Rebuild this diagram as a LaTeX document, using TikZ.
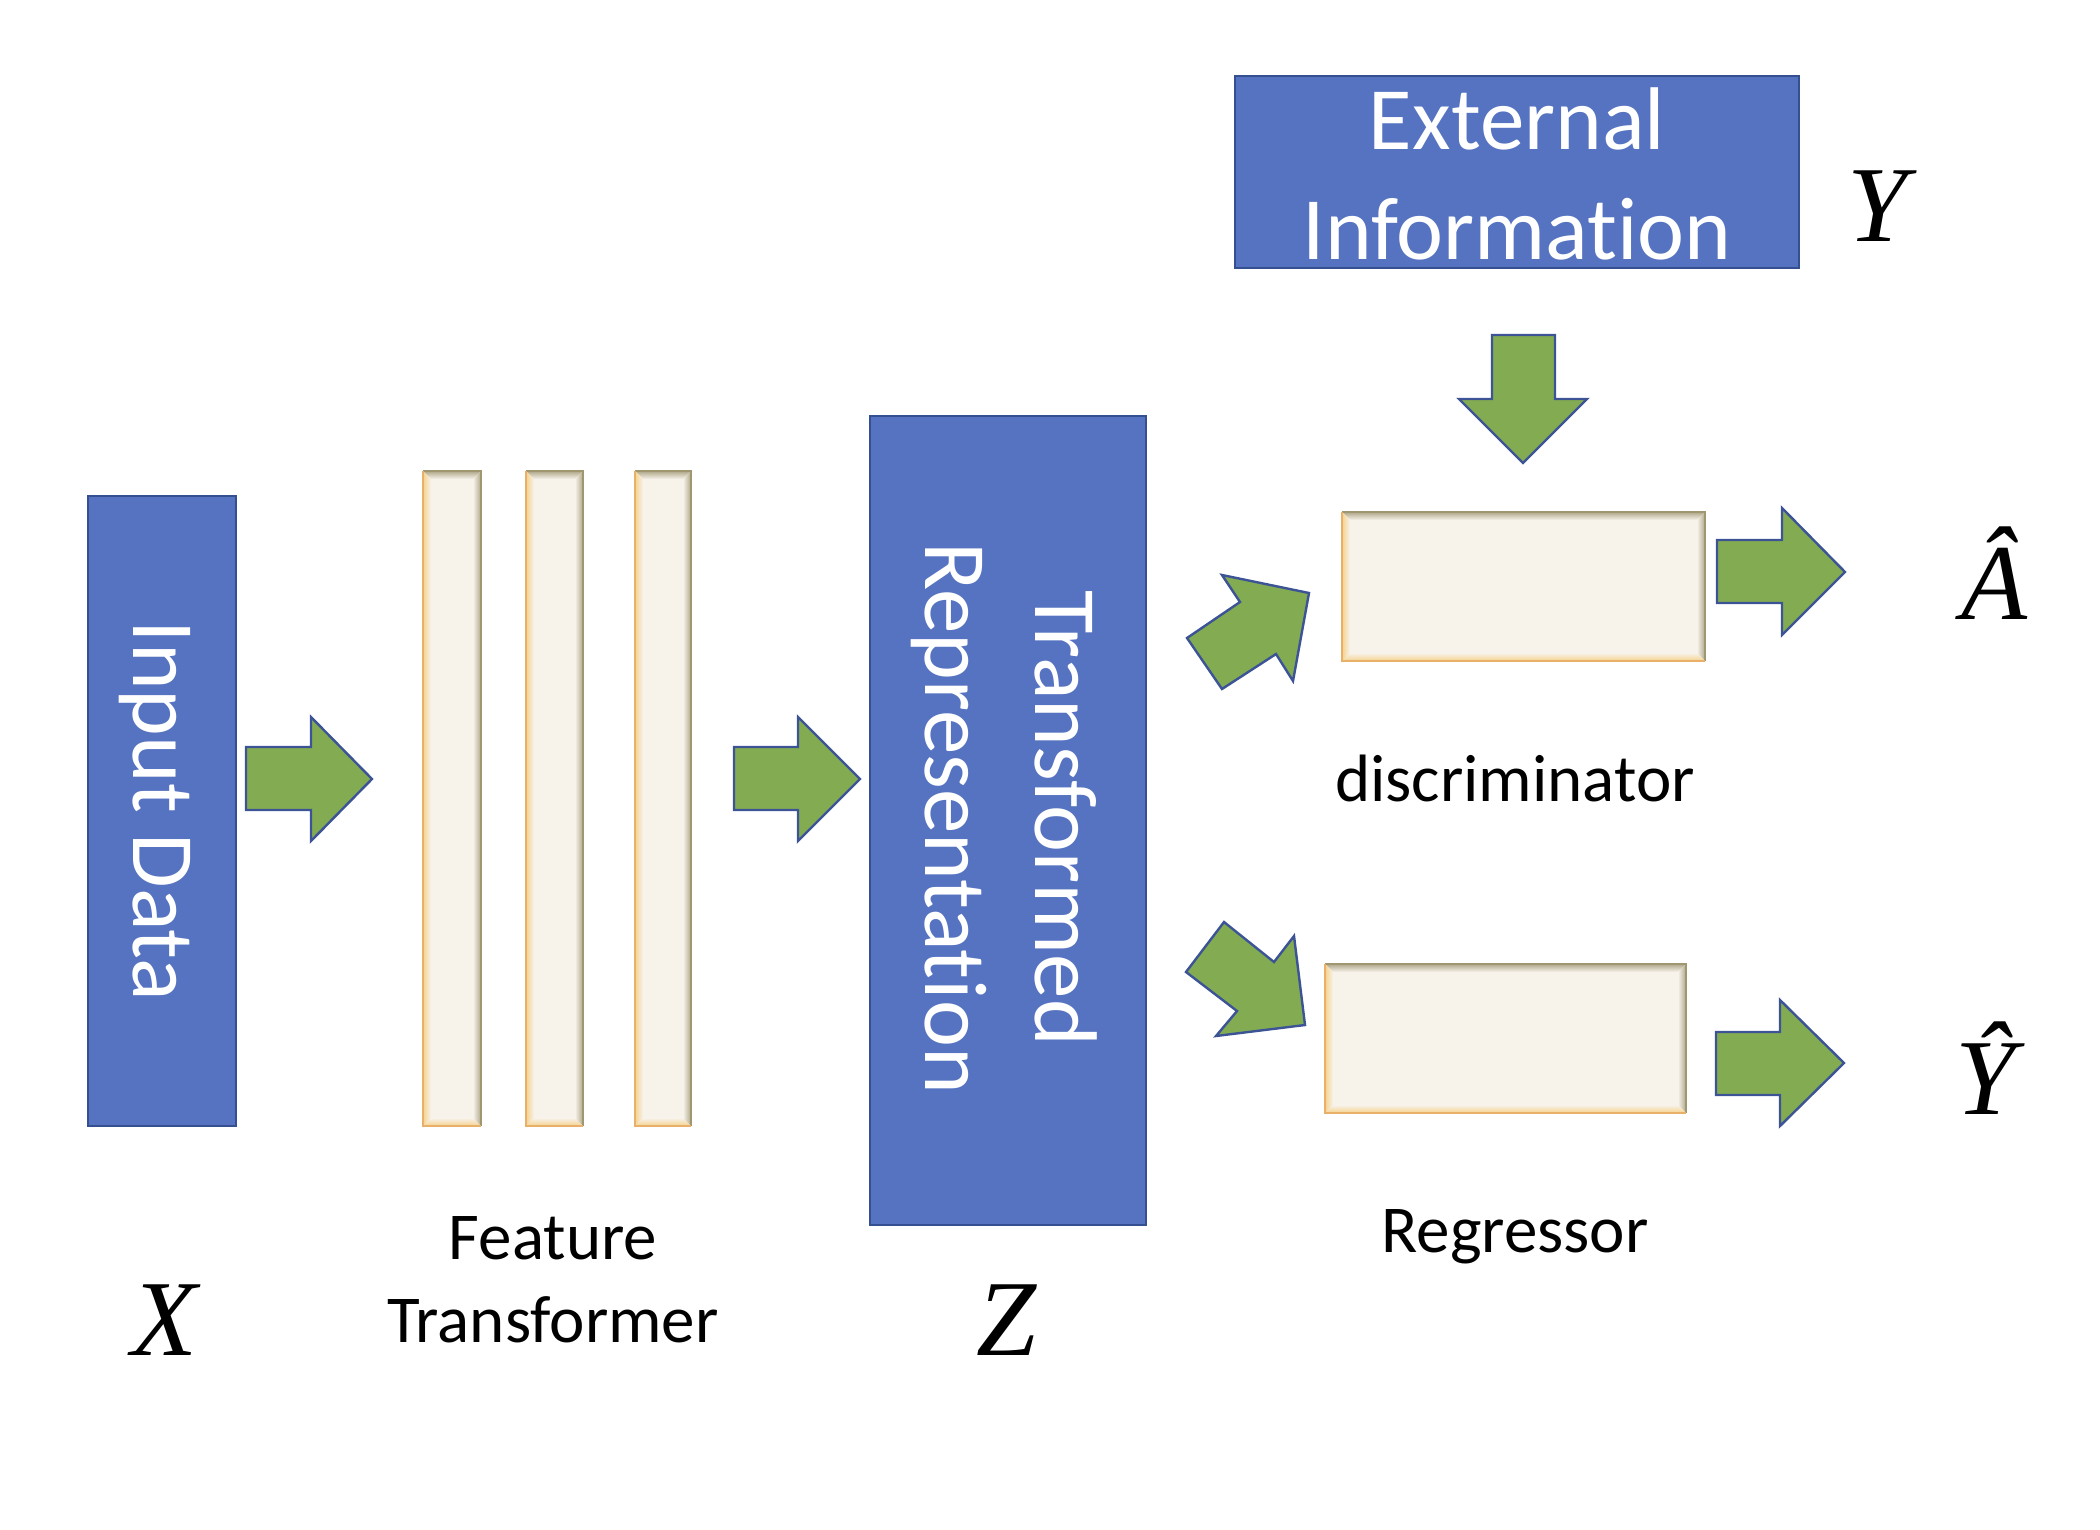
\documentclass[tikz,border=0pt]{standalone}
\usepackage{fontspec}
\setmainfont{Carlito}[Ligatures={NoCommon}]
\newfontfamily\tmsit{Liberation Serif}[ItalicFont={Liberation Serif Italic}]
\newcommand\nolig{\kern0pt\relax}
\definecolor{blu}{RGB}{85,115,193}
\definecolor{bluedge}{RGB}{52,80,145}
\definecolor{grn}{RGB}{131,171,82}
\definecolor{arrowedge}{RGB}{60,84,150}
\definecolor{cream}{RGB}{247,242,234}
\definecolor{olv}{RGB}{175,167,137}
\definecolor{gld}{RGB}{245,210,140}
\definecolor{olvedge}{RGB}{160,150,112}
\definecolor{gldedge}{RGB}{232,176,104}
\newcommand\bevelbox[5]{%
  \fill[cream] (#2,#3) rectangle (#4,#5);
  \shade[top color=olv, bottom color=cream] (#2,#3) -- (#4,#3) -- ({#4-8},{#3+8}) -- ({#2+8},{#3+8}) -- cycle;
  \shade[left color=gld, right color=cream] (#2,#3) -- ({#2+8},{#3+8}) -- ({#2+8},{#5-8}) -- (#2,#5) -- cycle;
  \shade[left color=cream, right color=olv] (#4,#3) -- ({#4-8},{#3+8}) -- ({#4-8},{#5-8}) -- (#4,#5) -- cycle;
  \shade[top color=cream, bottom color=gld] (#2,#5) -- ({#2+8},{#5-8}) -- ({#4-8},{#5-8}) -- (#4,#5) -- cycle;
  \draw[olvedge, line width=2pt] (#2,#3) -- (#4,#3) -- (#4,#5);
  \draw[gldedge, line width=2pt] (#2,#3) -- (#2,#5) -- (#4,#5);
  \coordinate (#1) at ({(#2+#4)/2},{(#3+#5)/2});
}
\tikzset{
  bluebox/.style={fill=blu, draw=bluedge, line width=2pt, inner sep=0pt},
  whitetext/.style={text=white, font=\fontsize{89}{110}\selectfont, align=center, inner sep=0pt},
  blacktext/.style={text=black, font=\fontsize{67}{83}\selectfont, align=center, inner sep=0pt},
  mathlabel/.style={text=black, font=\tmsit\itshape\fontsize{108}{120}\selectfont, inner sep=0pt, anchor=base},
  blockarrow/.style={fill=grn, draw=arrowedge, line width=2.4pt, line join=miter}
}
\begin{document}
\begin{tikzpicture}[x=1pt,y=-1pt]
\useasboundingbox (0,0) rectangle (2100,1529);
% input data
\node[bluebox, minimum width=148pt, minimum height=630pt] (input) at (162,811) {};
\node[whitetext, rotate=-90] (inputtxt) at (155,811) {Input Data};
\node[mathlabel] (X) at (164,1355) {X};
% arrow 1
\draw[blockarrow] (246,747) -- (311,747) -- (311,717) -- (372,779) -- (311,841) -- (311,810) -- (246,810) -- cycle;
% bars
\bevelbox{bara}{423}{471}{481}{1126}
\bevelbox{barb}{526}{471}{583}{1126}
\bevelbox{barc}{635}{471}{691}{1126}
\node[blacktext, anchor=base] (ft) at (553,1342) {Feature\\Transformer};
% arrow 2
\draw[blockarrow] (734,747) -- (798,747) -- (798,717) -- (860,779) -- (798,841) -- (798,810) -- (734,810) -- cycle;
% transformed representation
\node[bluebox, minimum width=276pt, minimum height=809pt] (trep) at (1008,820) {};
\node[whitetext, rotate=-90] (treptxt) at (1004,818) {Transformed\\Representat\nolig ion};
\node[mathlabel] (Z) at (1007,1355) {Z};
% external information
\node[bluebox, minimum width=564pt, minimum height=192pt] (ext) at (1517,172) {};
\node[whitetext] (exttxt) at (1517,174) {External\\Informat\nolig ion};
\node[mathlabel] (Y) at (1878,241) {Y};
% down arrow
\draw[blockarrow] (1492,335) -- (1555,335) -- (1555,399) -- (1587,399) -- (1523,463) -- (1459,399) -- (1492,399) -- cycle;
% discriminator
\bevelbox{disc}{1342}{512}{1705}{661}
\node[blacktext, anchor=base] (disctxt) at (1515,801) {discriminator};
% regressor
\bevelbox{reg}{1325}{964}{1686}{1113}
\node[blacktext, anchor=base] (regtxt) at (1515,1252) {Regressor};
% diagonal arrows
\draw[blockarrow] (1187,638) -- (1240,602) -- (1222,575) -- (1309,593) -- (1293,681) -- (1276,654) -- (1222,689) -- cycle;
\draw[blockarrow] (1186,972) -- (1224,922) -- (1274,962) -- (1294,936) -- (1305,1025) -- (1216,1036) -- (1237,1011) -- cycle;
% output arrows
\draw[blockarrow] (1717,540) -- (1782,540) -- (1782,508) -- (1845,572) -- (1782,635) -- (1782,603) -- (1717,603) -- cycle;
\draw[blockarrow] (1716,1032) -- (1780,1032) -- (1780,1000) -- (1844,1063) -- (1780,1126) -- (1780,1095) -- (1716,1095) -- cycle;
\node[mathlabel] (Ahat) at (1994,619) {Â};
\node[mathlabel] (Yhat) at (1986,1114) {Ŷ};
\end{tikzpicture}
\end{document}
